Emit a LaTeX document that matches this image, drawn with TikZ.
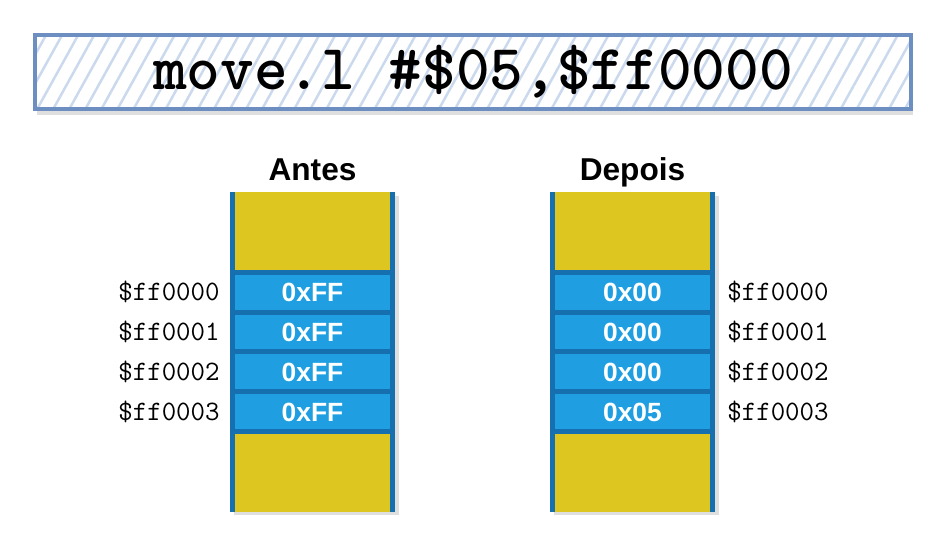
\documentclass[tikz,border=0pt]{standalone}
\usepackage{fontspec}
\setsansfont{Liberation Sans}
\usepackage{tikz}
\usetikzlibrary{positioning,patterns.meta,shadows}

\definecolor{frameblue}{HTML}{6C8EC1}
\definecolor{hatchblue}{HTML}{CAD9EE}
\definecolor{memedge}{HTML}{1670B0}
\definecolor{cellblue}{HTML}{1F9FE2}
\definecolor{freeyellow}{HTML}{DEC620}

\begin{document}
\begin{tikzpicture}[
  x=0.02cm, y=-0.02cm,
  instr/.style={draw=frameblue, line width=0.08cm, inner sep=0pt,
    minimum width=17.52cm, minimum height=1.5cm,
    drop shadow={shadow xshift=1pt, shadow yshift=-3pt, opacity=0.25},
    preaction={fill=white},
    pattern={Lines[angle=61, distance=8pt, line width=1.4pt]},
    pattern color=hatchblue,
    font=\ttfamily\bfseries\fontsize{36.5}{40}\selectfont},
  memcol/.style={fill=memedge, inner sep=0pt, outer sep=0pt,
    minimum width=3.3cm, minimum height=6.4cm,
    drop shadow={shadow xshift=2pt, shadow yshift=-2pt, opacity=0.25}},
  freecell/.style={fill=freeyellow, inner sep=0pt, outer sep=0pt,
    minimum width=3.1cm, minimum height=1.55cm},
  cell/.style={fill=cellblue, inner sep=0pt, outer sep=0pt, text=white,
    minimum width=3.1cm, minimum height=0.7cm,
    font=\sffamily\bfseries\fontsize{15}{17}\selectfont},
  head/.style={inner sep=0pt, anchor=base,
    font=\sffamily\bfseries\fontsize{18}{20}\selectfont},
  addr/.style={inner sep=0pt, font=\ttfamily\fontsize{16}{18}\selectfont}
]
\useasboundingbox (0,0) rectangle (951,553);

% instruction
\node[instr] (ins) at (473,72) {move.l \#\$05,\$ff0000};

% memory before
\node[memcol] (colA) at (312.5,352) {};
\node[freecell, anchor=north] (a0) at (colA.north) {};
\node[cell, below=0.1cm of a0] (a1) {0xFF};
\node[cell, below=0.1cm of a1] (a2) {0xFF};
\node[cell, below=0.1cm of a2] (a3) {0xFF};
\node[cell, below=0.1cm of a3] (a4) {0xFF};
\node[freecell, anchor=south] (a5) at (colA.south) {};
\node[head] (hA) at ([yshift=0.24cm]colA.north) {Antes};

% memory after
\node[memcol] (colB) at (632.5,352) {};
\node[freecell, anchor=north] (b0) at (colB.north) {};
\node[cell, below=0.1cm of b0] (b1) {0x00};
\node[cell, below=0.1cm of b1] (b2) {0x00};
\node[cell, below=0.1cm of b2] (b3) {0x00};
\node[cell, below=0.1cm of b3] (b4) {0x05};
\node[freecell, anchor=south] (b5) at (colB.south) {};
\node[head] (hB) at ([yshift=0.24cm]colB.north) {Depois};

% addresses
\foreach \i/\ad in {1/0000,2/0001,3/0002,4/0003}{
  \node[addr, left=0.3cm of a\i] (la\i) {\$ff\ad};
  \node[addr, right=0.34cm of b\i] (lb\i) {\$ff\ad};
}
\end{tikzpicture}
\end{document}
